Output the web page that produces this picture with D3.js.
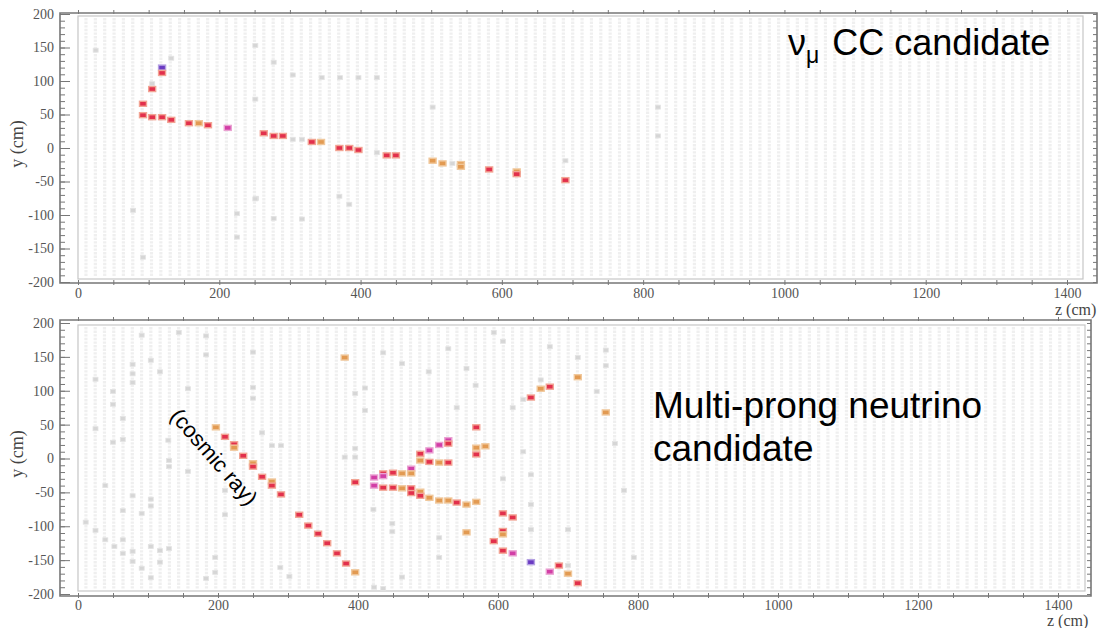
<!DOCTYPE html>
<html>
<head>
<meta charset="utf-8">
<script src="https://cdn.jsdelivr.net/npm/d3@7"></script>
<style>
  html, body { margin: 0; padding: 0; background: #fff; }
  svg { display: block; }
</style>
</head>
<body>
<svg id="chart" width="1099" height="628"></svg>
<script>
// Axis ticks (cm)
const zTicks = [0, 200, 400, 600, 800, 1000, 1200, 1400];
const yTicks = [-200, -150, -100, -50, 0, 50, 100, 150, 200];

// Reconstructed hits: [z (cm), y (cm), charge class]
const numuHits = [
  [92, 66, "r"], [105, 88, "r"], [119, 120, "p"], [119, 112, "r"],
  [92, 49, "r"], [105, 46, "r"], [119, 46, "r"], [132, 42, "r"],
  [157, 37, "r"], [171, 37, "o"], [184, 34, "r"], [212, 30, "m"],
  [263, 22, "r"], [277, 18, "r"], [290, 18, "r"],
  [331, 9, "r"], [344, 9, "o"], [370, 0, "r"], [384, 0, "r"], [397, -3, "r"],
  [437, -11, "r"], [450, -11, "r"],
  [502, -19, "o"], [516, -23, "o"], [542, -24, "o"], [542, -28, "o"],
  [582, -32, "r"], [621, -35, "o"], [621, -39, "r"], [690, -48, "r"]
];

// Unclustered activity in the same event window: [z, y]
const numuNoise = [
  [25, 146], [132, 134], [251, 153], [277, 128], [251, 73], [304, 109],
  [78, -93], [225, -98], [225, -133], [252, -75], [277, -105], [92, -163],
  [105, 96], [304, 13], [317, 13], [423, -7], [530, -23], [502, 61],
  [821, 61], [821, 18], [251, -76], [370, -72], [384, -84], [317, -106],
  [690, -19], [345, 105], [371, 105], [397, 105], [423, 105]
];

const multiHits = [
  // steep track on the left
  [197, 46, "o"], [210, 32, "r"], [223, 21, "r"], [223, 16, "o"], [236, 4, "r"],
  [250, -7, "o"], [250, -12, "r"], [263, -27, "r"], [277, -34, "o"], [277, -40, "r"],
  [290, -53, "r"], [316, -83, "r"], [329, -99, "r"], [343, -111, "r"],
  [356, -125, "r"], [370, -140, "r"], [383, -155, "r"], [396, -168, "o"],
  // neutrino vertex and prongs
  [396, -35, "r"],
  [423, -28, "m"], [423, -40, "m"],
  [436, -22, "r"], [436, -26, "m"], [436, -43, "r"],
  [450, -21, "r"], [450, -43, "r"],
  [463, -22, "o"], [463, -44, "o"],
  [476, -15, "m"], [476, -22, "o"], [476, -44, "r"], [476, -51, "r"],
  [489, 7, "r"], [489, -3, "o"], [489, -49, "o"], [489, -55, "r"],
  [502, 12, "m"], [502, -5, "r"], [502, -58, "o"],
  [516, 20, "m"], [516, -6, "o"], [516, -62, "o"],
  [529, 27, "m"], [529, 22, "r"], [529, -6, "r"], [529, -62, "o"],
  [541, -65, "r"], [555, -68, "o"], [555, -109, "o"],
  [569, 46, "r"], [569, 16, "o"], [569, 6, "r"], [569, -64, "o"],
  [582, 18, "o"],
  [594, -122, "r"], [607, -81, "r"], [607, -107, "r"], [607, -112, "o"], [607, -136, "r"],
  [621, -87, "r"], [621, -140, "m"],
  [647, 90, "r"], [647, -153, "p"], [661, 103, "o"], [674, 106, "r"],
  [674, -167, "m"], [687, -158, "r"], [700, -170, "o"], [714, -184, "r"],
  [714, 120, "o"], [754, 68, "o"], [381, 149, "o"]
];

const multiNoise = [
  [25, 117], [50, 99], [50, 80], [64, 59], [78, 139], [78, 125], [78, 112],
  [91, 182], [104, 145], [117, 128], [144, 186], [157, 103], [183, 181], [183, 153],
  [250, 157], [250, 105], [250, 89], [25, 44], [50, 24], [64, 28], [129, 27],
  [263, 38], [277, 19], [290, 19],
  [11, -94], [25, -106], [39, -40], [39, -120], [52, -130], [64, -77], [64, -120],
  [64, -140], [78, -55], [78, -137], [78, -152], [91, -81], [91, -162], [104, -60],
  [104, -70], [104, -130], [104, -176], [117, -136], [117, -153], [130, -133],
  [130, -3], [130, -12], [157, -19], [183, -177], [196, -168], [196, -146],
  [210, -47], [210, -83], [289, -161], [302, -174],
  [594, 186], [607, 173], [674, 165], [754, 160], [436, 156], [463, 140], [501, 128],
  [529, 162], [555, 133], [714, 149], [754, 137], [741, 99], [661, 116], [636, 87],
  [396, 96], [410, 104], [410, 71], [541, 75], [568, 108], [621, 75], [767, 22],
  [636, 10], [647, -24], [607, -30], [780, -47], [647, -68], [647, -105], [700, -105],
  [794, -146], [516, -117], [516, -146], [449, -96], [449, -108], [422, -75],
  [463, -175], [423, -190], [436, -192], [700, -158], [396, 15], [396, 2], [381, 2]
];

// Hit palette per charge class: core and halo
const hitColors = {
  r: ["#e2304c", "#f2a494"],
  o: ["#e29a52", "#f0c89c"],
  m: ["#d23ea6", "#eaa2d2"],
  p: ["#6a3ac2", "#b4a0e2"]
};

// Panel layout in page pixels
const panels = [
  {
    hits: numuHits, noise: numuNoise,
    xRange: [78, 1067], yRange: [282, 14],
    frame: { l: 60, r: 1097, t: 13, b: 283 },
    box: { r: 1083, t: 16, b: 279 },
    labelPad: 5,
    yLabel: [23, 144], zLabel: [1055, 315]
  },
  {
    hits: multiHits, noise: multiNoise,
    xRange: [78, 1058], yRange: [594, 323],
    frame: { l: 60, r: 1091, t: 320, b: 596 },
    box: { r: 1085, t: 325, b: 591 },
    labelPad: 4,
    yLabel: [23, 454], zLabel: [1047, 626]
  }
];

const svg = d3.select("#chart");
const axisColor = "#777";
const serif = "Liberation Serif, DejaVu Serif, serif";
const sans = "Liberation Sans, Arial, sans-serif";

panels.forEach((P) => {
  const g = svg.append("g");
  const x = d3.scaleLinear().domain([0, 1400]).range(P.xRange);
  const y = d3.scaleLinear().domain([-200, 200]).range(P.yRange);

  // detector planes (vertical cell columns)
  const planeZ = d3.range(11.3, x.invert(P.box.r - 2), 13.25);
  g.append("g").selectAll("line").data(planeZ).join("line")
    .attr("x1", d => x(d)).attr("x2", d => x(d))
    .attr("y1", P.box.t + 2).attr("y2", P.box.b - 2)
    .attr("stroke", "#efefef").attr("stroke-width", 3.2)
    .attr("stroke-dasharray", "2.4 1.2");

  // detector outline
  g.append("rect")
    .attr("x", x(0)).attr("y", P.box.t)
    .attr("width", P.box.r - x(0)).attr("height", P.box.b - P.box.t)
    .attr("fill", "none").attr("stroke", "#c6c6c6").attr("stroke-width", 1.2);

  // unclustered hits
  g.append("g").selectAll("rect").data(P.noise).join("rect")
    .attr("x", d => x(d[0]) - 2.5).attr("y", d => y(d[1]) - 2)
    .attr("width", 5).attr("height", 4)
    .attr("fill", "#d6d6d6").attr("stroke", "#e4e4e4").attr("stroke-width", 0.8);

  // reconstructed hits
  g.append("g").selectAll("rect").data(P.hits).join("rect")
    .attr("x", d => x(d[0]) - 3.5).attr("y", d => y(d[1]) - 2.5)
    .attr("width", 7).attr("height", 5)
    .attr("fill", d => hitColors[d[2]][0])
    .attr("stroke", d => hitColors[d[2]][1]).attr("stroke-width", 1.4);

  // frame
  const F = P.frame;
  g.append("path")
    .attr("d", `M${F.l},${F.t}H${F.r}V${F.b}H${F.l}Z`)
    .attr("fill", "none").attr("stroke", axisColor).attr("stroke-width", 1.6);

  const tickStyle = sel => {
    sel.select(".domain").remove();
    sel.selectAll(".tick line").attr("stroke", axisColor).attr("stroke-width", 1);
  };
  const labelStyle = sel => {
    sel.select(".domain").remove();
    sel.attr("font-family", serif);
    sel.selectAll("text").attr("font-family", serif).attr("font-size", 14).attr("fill", "#555");
  };

  // y ticks: majors and minors pointing inward on both sides
  const yMinor = d3.range(-200, 201, 10);
  g.append("g").attr("transform", `translate(${F.l},0)`)
    .call(d3.axisRight(y).tickValues(yMinor).tickSize(5).tickFormat("")).call(tickStyle);
  g.append("g").attr("transform", `translate(${F.l},0)`)
    .call(d3.axisRight(y).tickValues(yTicks).tickSize(10).tickFormat("")).call(tickStyle);
  g.append("g").attr("transform", `translate(${F.r},0)`)
    .call(d3.axisLeft(y).tickValues(yMinor).tickSize(4).tickFormat("")).call(tickStyle);

  // y tick labels
  g.append("g").attr("transform", `translate(${F.l},0)`)
    .call(d3.axisLeft(y).tickValues(yTicks).tickSize(0).tickPadding(6)
      .tickFormat(d => String(d)))
    .call(labelStyle);

  // z ticks on bottom and top edges
  const zMinor = d3.range(0, 1401, 50);
  g.append("g").attr("transform", `translate(0,${F.b + 2})`)
    .call(d3.axisTop(x).tickValues(zMinor).tickSize(5).tickFormat("")).call(tickStyle);
  g.append("g").attr("transform", `translate(0,${F.t - 3})`)
    .call(d3.axisBottom(x).tickValues(zMinor).tickSize(4).tickFormat("")).call(tickStyle);

  // z tick labels
  g.append("g").attr("transform", `translate(0,${F.b})`)
    .call(d3.axisBottom(x).tickValues(zTicks).tickSize(0).tickPadding(P.labelPad)
      .tickFormat(d3.format("d")))
    .call(labelStyle);

  // axis titles
  g.append("text")
    .attr("transform", `translate(${P.yLabel[0]},${P.yLabel[1]}) rotate(-90)`)
    .attr("text-anchor", "middle")
    .attr("font-family", serif).attr("font-size", 18).attr("fill", "#444")
    .text("y (cm)");
  g.append("text")
    .attr("x", P.zLabel[0]).attr("y", P.zLabel[1])
    .attr("font-family", serif).attr("font-size", 16).attr("fill", "#444")
    .text("z (cm)");
});

// event annotations
const t1 = svg.append("text").attr("x", 788).attr("y", 55)
  .attr("font-family", sans).attr("font-size", 36).attr("fill", "#000");
t1.append("tspan").text("\u03bd");
t1.append("tspan").attr("font-size", 23).attr("dy", 8).text("\u03bc");
t1.append("tspan").attr("dy", -8).attr("dx", 3).text(" CC candidate");

const t2 = svg.append("text").attr("font-family", sans).attr("font-size", 37).attr("fill", "#000");
t2.append("tspan").attr("x", 653).attr("y", 418).text("Multi-prong neutrino");
t2.append("tspan").attr("x", 653).attr("y", 461).text("candidate");

svg.append("text")
  .attr("transform", "translate(214,457) rotate(49)")
  .attr("text-anchor", "middle").attr("dominant-baseline", "central")
  .attr("font-family", sans).attr("font-size", 22).attr("fill", "#000")
  .text("(cosmic ray)");
</script>
</body>
</html>
